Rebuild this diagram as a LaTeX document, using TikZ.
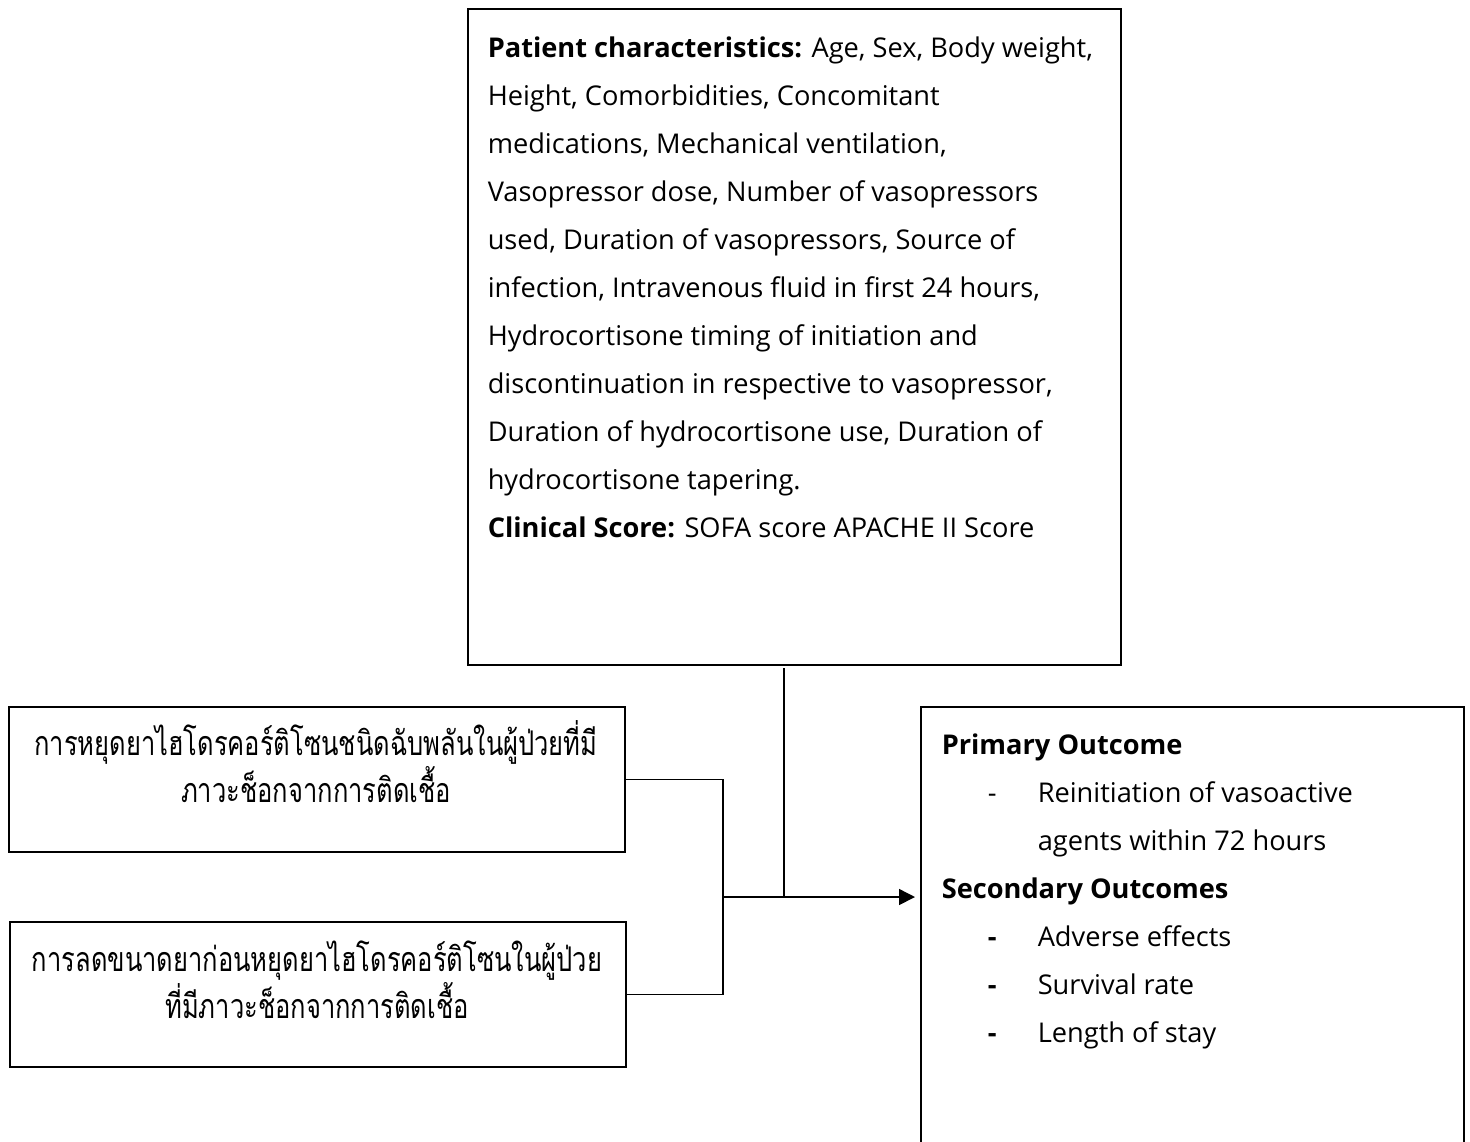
\documentclass[tikz,border=0pt]{standalone}
\usepackage{fontspec}
\setmainfont{Open Sans}
\newfontfamily\thaifont[Script=Thai,FakeStretch=0.75]{Loma}
\usetikzlibrary{arrows.meta}
\begin{document}
\begin{tikzpicture}[x=0.5pt,y=-0.5pt, line width=0.75pt,
 box/.style={draw, line width=0.75pt, rectangle, inner sep=0pt, anchor=north west},
 txt/.style={inner sep=0pt, anchor=base west, align=left, font=\fontsize{13.6}{24}\selectfont},
 thai/.style={inner sep=0pt, anchor=base, align=center, font=\thaifont\fontsize{17}{23.5}\selectfont}]
\useasboundingbox (0,0) rectangle (1470,1141);
\node[box, minimum width=326.5pt, minimum height=328pt] (chars) at (467,8) {};
\node[box, minimum width=308pt, minimum height=72.5pt] (abrupt) at (8,706) {};
\node[box, minimum width=308pt, minimum height=72.5pt] (taper) at (9,921) {};
\node[box, minimum width=271.5pt, minimum height=237pt] (outc) at (920,706) {};
\node[txt] (charstext) at (487,537) {\textbf{Patient characteristics:} Age, Sex, Body weight,\\
Height, Comorbidities, Concomitant\\
medications, Mechanical ventilation,\\
Vasopressor dose, Number of vasopressors\\
used, Duration of vasopressors, Source of\\
infection, Intravenous fluid in first 24 hours,\\
Hydrocortisone timing of initiation and\\
discontinuation in respective to vasopressor,\\
Duration of hydrocortisone use, Duration of\\
hydrocortisone tapering.\\
\textbf{Clinical Score:} SOFA score APACHE II Score};
\node[thai] (abrupttext) at (316,802) {การหยุดยาไฮโดรคอร์ติโซนชนิดฉับพลันในผู้ป่วยที่มี\\ภาวะช็อกจากการติดเชื้อ};
\node[thai] (tapertext) at (317,1018) {การลดขนาดยาก่อนหยุดยาไฮโดรคอร์ติโซนในผู้ป่วย\\ที่มีภาวะช็อกจากการติดเชื้อ};
\node[txt] (outctext) at (941,1042) {\textbf{Primary Outcome}\\
\hspace*{23pt}\makebox[25pt][l]{-}Reinitiation of vasoactive\\
\hspace*{48pt}agents within 72 hours\\
\textbf{Secondary Outcomes}\\
\hspace*{23pt}\makebox[25pt][l]{\textbf{-}}Adverse effects\\
\hspace*{23pt}\makebox[25pt][l]{\textbf{-}}Survival rate\\
\hspace*{23pt}\makebox[25pt][l]{\textbf{-}}Length of stay};
\coordinate (bus) at (723,897);
\coordinate (drop) at (784,668);
\draw (abrupt.east) -| (bus) |- (taper.east);
\draw (drop) -- (drop |- bus);
\draw[-{Triangle[length=8pt,width=8pt]}, shorten >=2.5pt] (bus) -- (outc.west |- bus);
\end{tikzpicture}
\end{document}
